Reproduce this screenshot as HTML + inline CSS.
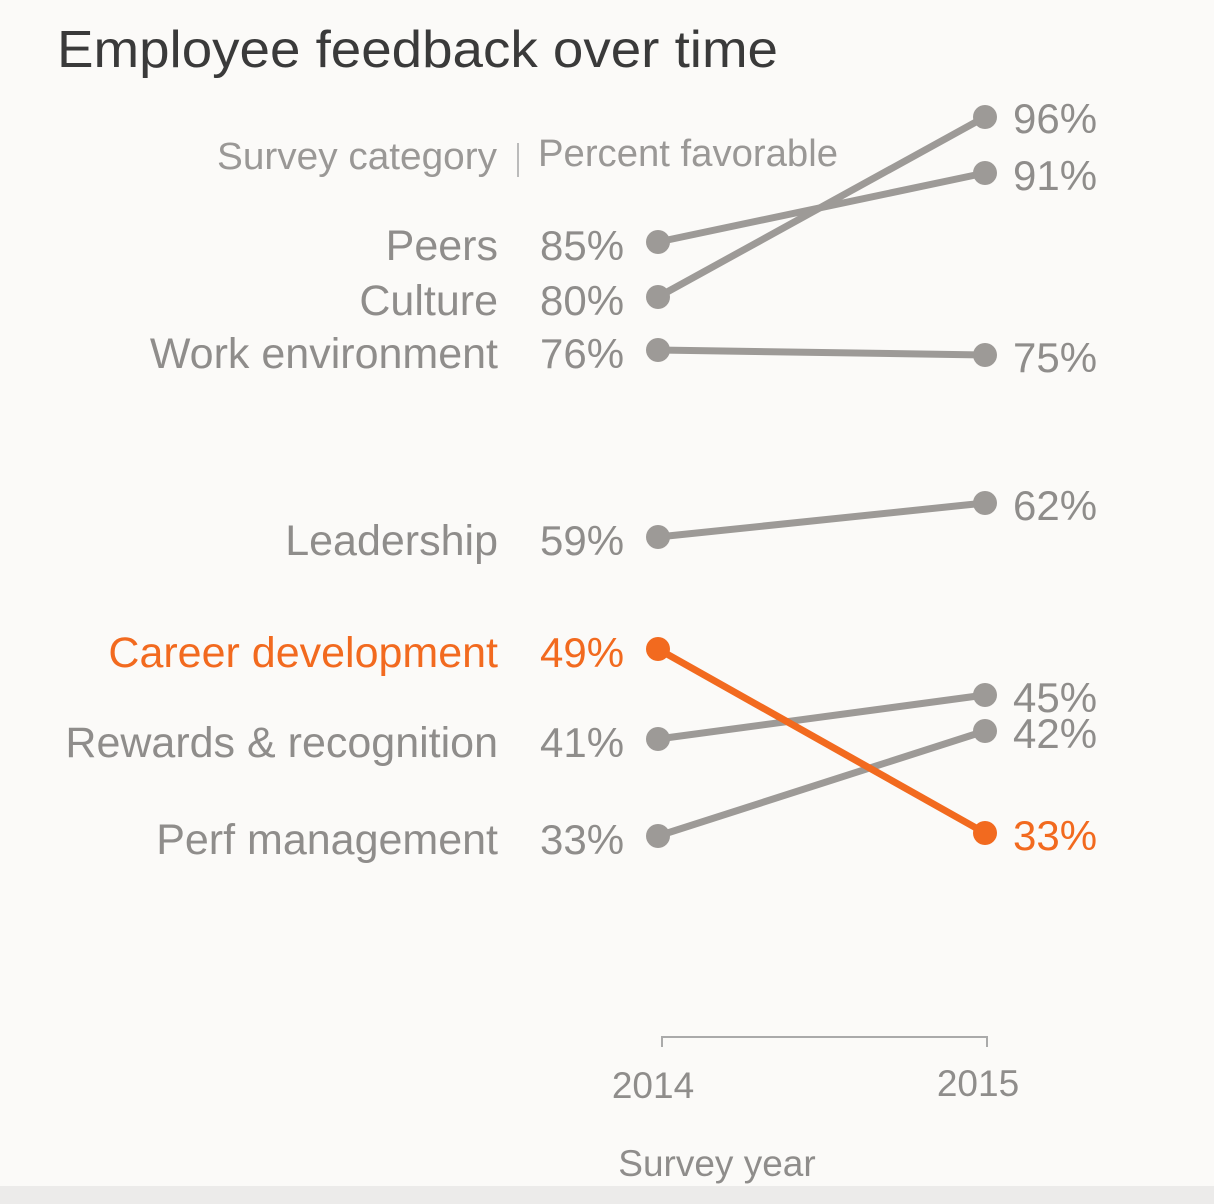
<!DOCTYPE html>
<html><head><meta charset="utf-8"><style>
html,body{margin:0;padding:0;background:#fbfaf8;}
svg{display:block;}
text{font-family:"Liberation Sans",sans-serif;}
</style></head><body>
<svg width="1214" height="1204" viewBox="0 0 1214 1204" xmlns="http://www.w3.org/2000/svg">
<rect width="1214" height="1204" fill="#fbfaf8"/>
<rect y="1186" width="1214" height="18" fill="#ecebea"/>
<text x="57" y="67" font-size="52" fill="#3a3a3a" textLength="721" lengthAdjust="spacingAndGlyphs">Employee feedback over time</text>
<text x="217" y="169" font-size="38" fill="#9a9896" textLength="280" lengthAdjust="spacingAndGlyphs">Survey category</text>
<line x1="518" y1="143" x2="518" y2="177" stroke="#bbb" stroke-width="2"/>
<text x="538" y="166" font-size="38" fill="#9a9896" textLength="300" lengthAdjust="spacingAndGlyphs">Percent favorable</text>
<g stroke="#9d9a97" stroke-width="7" fill="#9d9a97">
<line x1="658" y1="242" x2="985" y2="173"/>
<line x1="658" y1="297" x2="985" y2="117"/>
<line x1="658" y1="350" x2="985" y2="355"/>
<line x1="658" y1="537" x2="985" y2="503"/>
<line x1="658" y1="739" x2="985" y2="695"/>
<line x1="658" y1="836" x2="985" y2="731"/>
<g stroke="none">
<circle cx="658" cy="242" r="12"/><circle cx="985" cy="173" r="12"/>
<circle cx="658" cy="297" r="12"/><circle cx="985" cy="117" r="12"/>
<circle cx="658" cy="350" r="12"/><circle cx="985" cy="355" r="12"/>
<circle cx="658" cy="537" r="12"/><circle cx="985" cy="503" r="12"/>
<circle cx="658" cy="739" r="12"/><circle cx="985" cy="695" r="12"/>
<circle cx="658" cy="836" r="12"/><circle cx="985" cy="731" r="12"/>
</g></g>
<g stroke="#f26a1f" stroke-width="7" fill="#f26a1f">
<line x1="658" y1="649" x2="985" y2="833"/>
<circle cx="658" cy="649" r="12" stroke="none"/><circle cx="985" cy="833" r="12" stroke="none"/>
</g>
<g font-size="42" fill="#8f8d8b">
<g text-anchor="end" font-size="43">
<text x="498" y="260">Peers</text>
<text x="498" y="315">Culture</text>
<text x="498" y="368">Work environment</text>
<text x="498" y="555">Leadership</text>
<text x="498" y="757">Rewards &amp; recognition</text>
<text x="498" y="854">Perf management</text>
</g>
<text x="540" y="260">85%</text>
<text x="540" y="315">80%</text>
<text x="540" y="368">76%</text>
<text x="540" y="555">59%</text>
<text x="540" y="757">41%</text>
<text x="540" y="854">33%</text>
<text x="1013" y="133">96%</text>
<text x="1013" y="190">91%</text>
<text x="1013" y="372">75%</text>
<text x="1013" y="520">62%</text>
<text x="1013" y="712">45%</text>
<text x="1013" y="748">42%</text>
</g>
<g font-size="42" fill="#f26a1f">
<text x="498" y="667" text-anchor="end" font-size="43">Career development</text>
<text x="540" y="667">49%</text>
<text x="1013" y="850">33%</text>
</g>
<path d="M662 1047 V1037 H987 V1047" fill="none" stroke="#aaa" stroke-width="2"/>
<g font-size="37" fill="#8f8d8b" text-anchor="middle">
<text x="653" y="1098">2014</text>
<text x="978" y="1096">2015</text>
<text x="717" y="1176">Survey year</text>
</g>
</svg>
</body></html>
